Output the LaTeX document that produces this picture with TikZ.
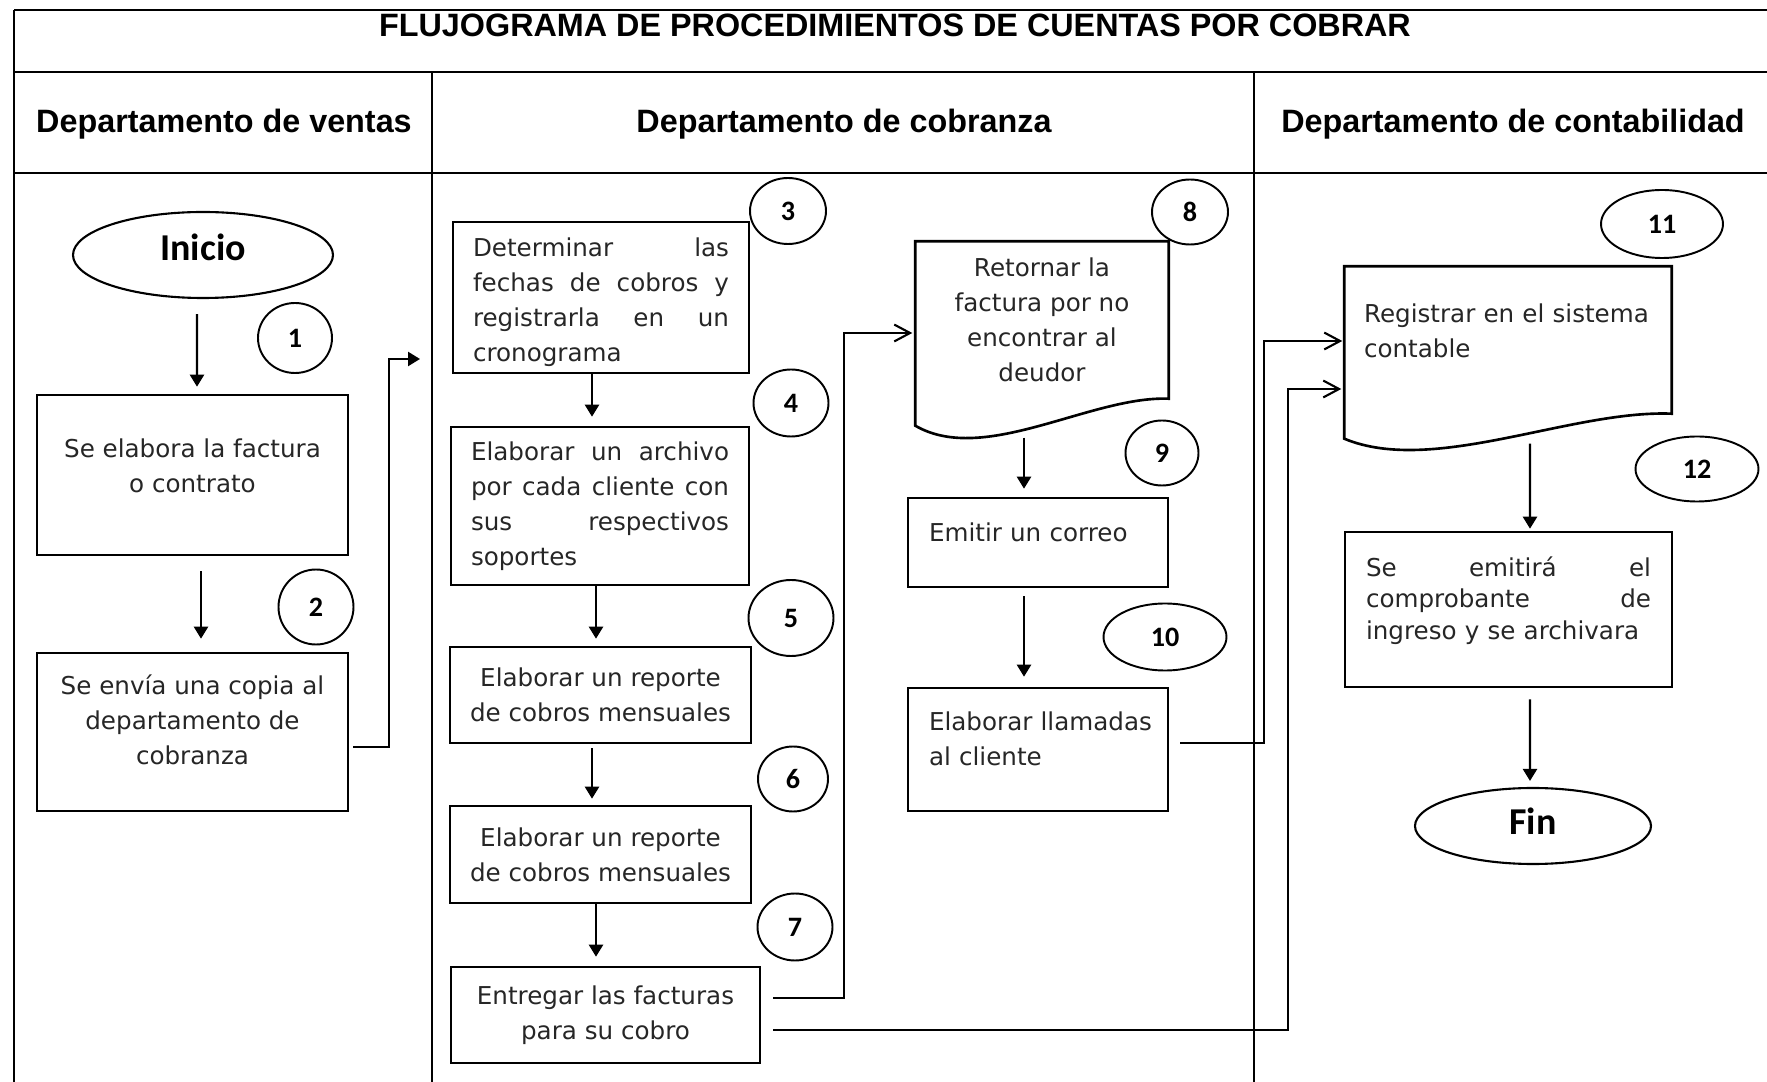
\documentclass[tikz,border=0pt]{standalone}
\usepackage{fontspec}
\setmainfont{DejaVu Sans}
\newfontfamily\headfont{Liberation Sans}
\newfontfamily\numfont{Carlito}
\usetikzlibrary{shapes.geometric, arrows.meta, calc}

\newcommand{\jline}[1]{{\spaceskip=0.3333em plus 1fil\makebox[\linewidth][s]{#1}}}
\newcommand{\botpad}[1]{\rule[-#1]{0pt}{0pt}}
\newcommand{\toppad}[1]{\rule{0pt}{#1}}

\tikzset{
  laneline/.style = {line width=0.8pt},
  boxline/.style = {line width=0.75pt},
  stepbox/.style = {draw, rectangle, line width=0.75pt, inner xsep=2mm, inner ysep=0pt, align=center, font=\fontsize{7}{10}\selectfont, text=black!85},
  docbox/.style = {rectangle, inner xsep=2mm, inner ysep=0pt, align=center, font=\fontsize{7}{10}\selectfont, text=black!85},
  startend/.style = {draw, ellipse, line width=0.6pt, inner sep=0pt, font=\numfont\bfseries\fontsize{10.8}{13}\selectfont},
  stepnum/.style = {draw, ellipse, line width=0.55pt, inner sep=0pt, font=\numfont\bfseries\fontsize{8}{10}\selectfont},
  lanehead/.style = {font=\headfont\bfseries\fontsize{9.2}{11}\selectfont},
  arrow/.style = {line width=0.6pt, -{Triangle[length=3.4pt,width=4pt]}},
  openarrow/.style = {line width=0.6pt, -{Straight Barb[length=4.5pt,width=4.8pt]}}
}

\begin{document}
\begin{tikzpicture}[x=0.1mm, y=-0.1mm]
\useasboundingbox (0,0) rectangle (1767,1082);

\draw[laneline] (14,10) -- (1767,10);
\draw[laneline] (14,72) -- (1767,72);
\draw[laneline] (14,173) -- (1767,173);
\draw[laneline] (14,10) -- (14,1082);
\draw[laneline] (432,72) -- (432,1082);
\draw[laneline] (1254,72) -- (1254,1082);

\node[lanehead] (title) at (895,25) {FLUJOGRAMA DE PROCEDIMIENTOS DE CUENTAS POR COBRAR};
\node[lanehead] (ventas) at (224,124) {Departamento de ventas};
\node[lanehead] (cobranza) at (844,124) {Departamento de cobranza};
\node[lanehead] (contab) at (1513,124) {Departamento de contabilidad};

\node[startend, minimum width=26mm, minimum height=8.6mm] (inicio) at (203,255) {Inicio\botpad{1.6mm}};
\node[stepbox, minimum width=31.1mm, minimum height=16mm] (box1) at (192.5,475) {Se elabora la factura\\o contrato\botpad{1.8mm}};
\node[stepbox, minimum width=31.1mm, minimum height=15.8mm] (box2) at (192.5,732) {Se envía una copia al\\departamento de\\cobranza\botpad{2.4mm}};

\node[stepbox, align=left, text width=25.6mm, minimum width=29.6mm, minimum height=15.1mm] (box3) at (601,297.5)
  {\toppad{2.8mm}\jline{Determinar las}\\\jline{fechas de cobros y}\\\jline{registrarla en un}\\cronograma};
\node[stepbox, align=left, text width=25.8mm, minimum width=29.8mm, minimum height=15.8mm] (box4) at (600,506)
  {\jline{Elaborar un archivo}\\\jline{por cada cliente con}\\\jline{sus respectivos}\\soportes};
\node[stepbox, minimum width=29.9mm, minimum height=9.6mm] (box5) at (600.5,695) {Elaborar un reporte\\de cobros mensuales};
\node[stepbox, minimum width=29.9mm, minimum height=9.7mm] (box6) at (600.5,854.5) {Elaborar un reporte\\de cobros mensuales};
\node[stepbox, minimum width=30.9mm, minimum height=9.6mm] (box7) at (605.5,1015) {Entregar las facturas\\para su cobro};

\node[docbox, minimum width=25.2mm, minimum height=15.6mm] (doc8) at (1042,320) {Retornar la\\factura por no\\encontrar al\\deudor};
\draw[boxline] (doc8.north west) -- (doc8.north east) -- (doc8.south east) .. controls +(-78,-3) and +(69,40) .. ($(doc8.south west)+(0,27)$) -- cycle;
\node[stepbox, align=left, inner xsep=2.1mm, text width=21.8mm, minimum width=26mm, minimum height=8.9mm] (box9) at (1038,542.5) {Emitir un correo\botpad{2mm}};
\node[stepbox, align=left, inner xsep=2.1mm, text width=21.8mm, minimum width=26mm, minimum height=12.3mm] (box10) at (1038,749.5) {\mbox{Elaborar llamadas}\\al cliente\botpad{2.2mm}};

\node[docbox, align=left, inner xsep=1.9mm, text width=28.8mm, minimum width=32.6mm, minimum height=14.6mm] (doc11) at (1508,340) {Registrar en el sistema\\contable\botpad{1.8mm}};
\draw[boxline] (doc11.north west) -- (doc11.north east) -- (doc11.south east) .. controls +(-101,-4) and +(89,37) .. ($(doc11.south west)+(0,25)$) -- cycle;
\node[stepbox, align=left, inner xsep=2.1mm, text width=28.5mm, minimum width=32.7mm, minimum height=15.5mm, font=\fontsize{7}{9}\selectfont] (box12) at (1508.5,609.5)
  {\jline{Se emitirá el}\\\jline{comprobante de}\\ingreso y se archivara\botpad{2.3mm}};
\node[startend, minimum width=23.6mm, minimum height=7.6mm] (fin) at (1533,826) {Fin\botpad{0.9mm}};

\node[stepnum, minimum width=7.4mm, minimum height=7mm] (n1) at (295,338) {1};
\node[stepnum, minimum width=7.5mm, minimum height=7.5mm] (n2) at (316,607) {2};
\node[stepnum, minimum width=7.6mm, minimum height=6.6mm] (n3) at (788,211) {3};
\node[stepnum, minimum width=7.5mm, minimum height=6.7mm] (n4) at (791,403) {4};
\node[stepnum, minimum width=8.5mm, minimum height=7.6mm] (n5) at (791,618) {5};
\node[stepnum, minimum width=7mm, minimum height=6.5mm] (n6) at (793,779) {6};
\node[stepnum, minimum width=7.5mm, minimum height=6.7mm] (n7) at (795,927) {7};
\node[stepnum, minimum width=7.6mm, minimum height=6.5mm] (n8) at (1190,212) {8};
\node[stepnum, minimum width=7.3mm, minimum height=6.5mm] (n9) at (1162,453) {9};
\node[stepnum, minimum width=12.3mm, minimum height=6.7mm] (n10) at (1165,637) {10};
\node[stepnum, minimum width=12.2mm, minimum height=6.8mm] (n11) at (1662,224) {11};
\node[stepnum, minimum width=12.3mm, minimum height=6.5mm] (n12) at (1697,469) {12};

\coordinate (in3) at (420,359);

\draw[arrow] ($(inicio.south)+(-6,15)$) -- ($(box1.north)+(4.5,-7)$);
\draw[arrow] ($(box1.south)+(8.5,15)$) -- ($(box2.north)+(8.5,-13)$);
\draw[arrow] ($(box2.east)+(4,15)$) -- ++(36,0) |- (in3);

\draw[arrow] ($(box3.south)+(-9,0)$) -- ($(box4.north)+(-8,-9)$);
\draw[arrow] ($(box4.south)+(-4,0)$) -- ($(box5.north)+(-4.5,-7)$);
\draw[arrow] ($(box5.south)+(-8.5,4)$) -- ($(box6.north)+(-8.5,-6)$);
\draw[arrow] ($(box6.south)+(-4.5,0)$) -- ($(box7.north)+(-9.5,-9)$);

\draw[openarrow] ($(box7.east)+(12,-17)$) -- ++(71,0) |- ($(doc8.west)+(-3,13)$);
\draw[openarrow] ($(box7.east)+(12,15)$) -- ++(515,0) |- ($(doc11.west)+(-3,49)$);

\draw[arrow] ($(doc8.south)+(-18,39)$) -- ($(box9.north)+(-14,-8)$);
\draw[arrow] ($(box9.south)+(-14,8)$) -- ($(box10.north)+(-14,-10)$);
\draw[openarrow] ($(box10.east)+(11,-6.5)$) -- ++(84,0) |- ($(doc11.west)+(-2,1)$);

\draw[arrow] ($(doc11.south)+(22,30)$) -- ($(box12.north)+(21.5,-2)$);
\draw[arrow] ($(box12.south)+(21.5,11)$) -- ($(fin.north)+(-3,-6)$);

\end{tikzpicture}
\end{document}
